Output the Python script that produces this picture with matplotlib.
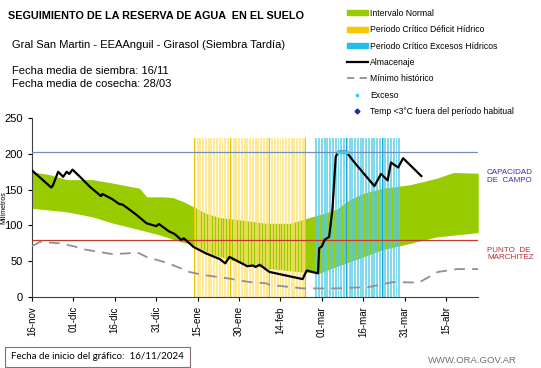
import numpy as np
import matplotlib
matplotlib.use('Agg')
import matplotlib.pyplot as plt
from matplotlib.lines import Line2D
from matplotlib.patches import Patch

plt.rcParams['font.family'] = ['Liberation Sans', 'DejaVu Sans']

# days counted from 16-nov-2024
tick_days = [0, 15, 30, 45, 60, 75, 90, 105, 120, 135, 150]
tick_labels = ['16-nov', '01-dic', '16-dic', '31-dic', '15-ene', '30-ene',
               '14-feb', '01-mar', '16-mar', '31-mar', '15-abr']

# intervalo normal (upper / lower edge)
band_up_x = [0, 6.5, 12.6, 22, 29.5, 39, 41.5, 47.6, 51, 55, 58.5, 63, 68, 75, 85,
             93.5, 99.5, 104, 110, 115, 120, 127, 137, 146.6, 152.6, 161.6]
band_up_y = [175, 171, 164, 164, 159, 152, 140, 140, 139, 133, 126, 117, 111, 108, 103,
             103, 110, 115, 122, 136, 145, 152, 157, 166, 174, 173]
band_lo_x = [0, 12.6, 22, 29.5, 39, 46, 54, 58.5, 65, 75, 85, 95, 104, 110, 120,
             127, 137, 146.6, 161.6]
band_lo_y = [124, 119, 112, 103, 94, 87, 77, 73, 60, 48, 40, 36, 33, 42, 56,
             66, 75, 84, 90]

# almacenaje
alm_x = [0, 7, 7.6, 9.5, 11.3, 12.6, 13.5, 14.7, 17.4, 21, 25, 25.5, 29, 31.6, 32.9,
         37.8, 41.5, 45, 46, 49.5, 51.7, 54, 55, 58.5, 63, 68, 70, 71.5, 75, 78, 80,
         81, 82.5, 86, 89.6, 98, 99.5, 103.6, 104, 105, 106, 107.6, 108.8, 110, 111,
         113.8, 117, 120.5, 124, 126.4, 128.8, 130, 132.6, 134.4, 141]
alm_y = [177, 153, 156, 175, 168, 175, 172, 178, 168, 154, 141, 144, 137, 130, 129,
         115, 103, 99, 102, 92, 88, 80, 82, 70, 61, 53, 47, 56, 49, 43, 44,
         42, 45, 35, 32, 25, 37, 33, 68, 71, 80, 84, 122, 196, 203,
         203, 187, 171, 155, 172, 163, 188, 181, 194, 169]

# minimo historico
min_x = [0, 3, 10, 15, 19.6, 29, 35, 37.8, 41.5, 49.5, 57, 61.7, 71, 78.5, 85, 86,
         98, 110, 122, 131, 140, 147, 154, 161.6]
min_y = [71, 77, 75, 71, 66, 60, 61, 63, 56, 47, 35, 31, 26, 21, 19, 17,
         12, 12, 14, 21, 20, 35, 39, 39]

# periodos criticos
deficit_days = np.arange(59, 100)
exceso_days = np.arange(103, 134)
deficit_dark = [59, 72, 86, 99]
exceso_dark = [114, 127]
exceso_pts_x = [111, 112, 113, 114]
exceso_pts_y = [203, 203, 203, 203]

cap_campo = 203
pto_marchitez = 80
periodo_top = 222

fig = plt.figure(figsize=(5.41, 3.68), dpi=100)
ax = fig.add_axes([0.059, 0.193, 0.825, 0.486])

xs = np.linspace(0, 161.6, 300)
ax.fill_between(xs, np.interp(xs, band_lo_x, band_lo_y),
                np.interp(xs, band_up_x, band_up_y),
                color='#99CC00', lw=0, zorder=1)

ax.bar(deficit_days, periodo_top, width=0.7, color='#FFE270', alpha=0.75, lw=0, zorder=2)
ax.bar(exceso_days, periodo_top, width=0.7, color='#57CDE8', alpha=0.75, lw=0, zorder=2)
ax.bar(deficit_dark, periodo_top, width=0.4, color='#EEC400', lw=0, zorder=2)
ax.bar(exceso_dark, periodo_top, width=0.5, color='#1AA8D8', lw=0, zorder=2)

ax.axhline(cap_campo, color='#6F8FC0', lw=0.9, zorder=3)
ax.axhline(pto_marchitez, color='#C0392B', lw=0.9, zorder=3)

ax.plot(min_x, min_y, color='#909090', lw=1.3, dashes=(6, 4), zorder=4)
ax.plot(alm_x, alm_y, color='black', lw=1.6, zorder=5)
ax.scatter(exceso_pts_x, exceso_pts_y, s=4, marker='s', color='#33CCEE', zorder=6)

ax.set_xlim(0, 161.6)
ax.set_ylim(0, 250)
ax.set_yticks([0, 50, 100, 150, 200, 250])
ax.set_xticks(tick_days)
ax.set_xticklabels(tick_labels, rotation=90, fontsize=7)
ax.tick_params(axis='y', labelsize=8, length=3)
ax.tick_params(axis='x', length=3)
for s in ['top', 'right']:
    ax.spines[s].set_visible(False)
ax.spines['left'].set_color('#404040')
ax.spines['bottom'].set_color('#404040')
ax.set_ylabel('Milímetros', fontsize=5, labelpad=-2)

fig.text(0.015, 0.957, 'SEGUIMIENTO DE LA RESERVA DE AGUA  EN EL SUELO',
         fontsize=7.8, fontweight='bold', va='center')
fig.text(0.022, 0.877, 'Gral San Martin - EEAAnguil - Girasol (Siembra Tardía)',
         fontsize=8, va='center')
fig.text(0.022, 0.808, 'Fecha media de siembra: 16/11', fontsize=8, va='center')
fig.text(0.022, 0.772, 'Fecha media de cosecha: 28/03', fontsize=8, va='center')

fig.text(0.9, 0.52, 'CAPACIDAD\nDE  CAMPO', fontsize=5.8, color='#3333AA',
         va='center', linespacing=1.1)
fig.text(0.9, 0.31, 'PUNTO  DE\nMARCHITEZ', fontsize=5.8, color='#C0282D',
         va='center', linespacing=1.1)

handles = [
    Patch(color='#99CC00'),
    Patch(color='#F7C800'),
    Patch(color='#22BFEA'),
    Line2D([], [], color='black', lw=1.6),
    Line2D([], [], color='#909090', lw=1.3, dashes=(4, 3)),
    Line2D([], [], color='#33CCEE', marker='s', ls='', ms=2),
    Line2D([], [], color='#1F2FA0', marker='D', ls='', ms=2.5),
]
labels = ['Intervalo Normal', 'Periodo Crítico Déficit Hídrico',
          'Periodo Crítico Excesos Hídricos', 'Almacenaje', 'Mínimo histórico',
          'Exceso', 'Temp <3°C fuera del período habitual']
fig.legend(handles, labels, loc='upper left', bbox_to_anchor=(0.635, 0.985),
           frameon=False, fontsize=6.2, handlelength=2.4, handleheight=0.5,
           labelspacing=0.85, handletextpad=0.3, borderaxespad=0)

fig.text(0.02, 0.03, 'Fecha de inicio del gráfico:  16/11/2024', fontsize=7,
         family=['Lato', 'DejaVu Sans'], va='center',
         bbox=dict(boxstyle='square,pad=0.6', fc='white', ec='#7F6F6F', lw=0.8))
fig.text(0.955, 0.02, 'WWW.ORA.GOV.AR', fontsize=6.8, color='#707070',
         ha='right', va='center')

fig.savefig('out.png', dpi=100)
